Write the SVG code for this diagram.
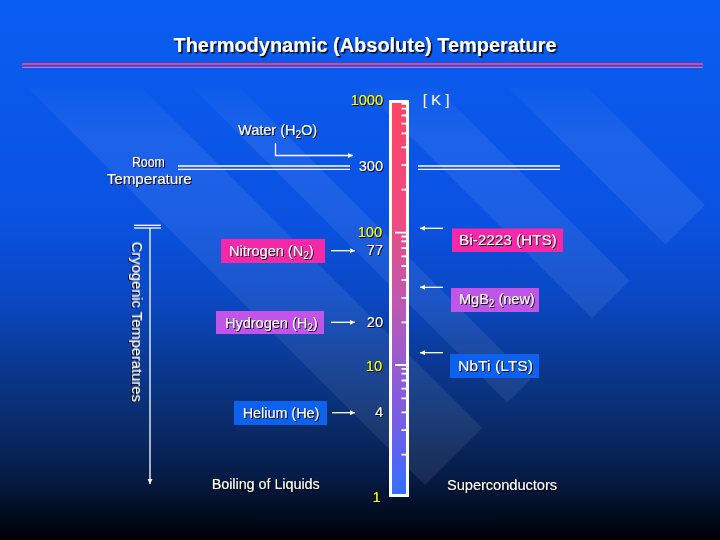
<svg xmlns="http://www.w3.org/2000/svg" width="720" height="540" viewBox="0 0 720 540">
<defs>
<linearGradient id="bg" x1="0" y1="0" x2="0" y2="1">
<stop offset="0" stop-color="#0a5ef2"/>
<stop offset="0.4" stop-color="#0a52e2"/>
<stop offset="0.55" stop-color="#0a48c4"/>
<stop offset="0.68" stop-color="#0a3890"/>
<stop offset="0.78" stop-color="#0a2c6c"/>
<stop offset="0.88" stop-color="#061c48"/>
<stop offset="0.95" stop-color="#020c20"/>
<stop offset="1" stop-color="#000004"/>
</linearGradient>
<linearGradient id="therm" gradientUnits="userSpaceOnUse" x1="0" y1="100" x2="0" y2="497">
<stop offset="0" stop-color="#ff4466"/>
<stop offset="0.3" stop-color="#f04c82"/>
<stop offset="0.5" stop-color="#c058b0"/>
<stop offset="0.65" stop-color="#9a5ccc"/>
<stop offset="0.8" stop-color="#7a5ce4"/>
<stop offset="1" stop-color="#3070ff"/>
</linearGradient>
<linearGradient id="bandfade" gradientUnits="userSpaceOnUse" x1="0" y1="88" x2="0" y2="140">
<stop offset="0" stop-color="#ffffff" stop-opacity="0.02"/>
<stop offset="1" stop-color="#ffffff" stop-opacity="0.075"/>
</linearGradient>
<marker id="ah" markerUnits="userSpaceOnUse" markerWidth="6" markerHeight="6" refX="5" refY="2.5" orient="auto">
<path d="M0,0 L5,2.5 L0,5 z" fill="#ffffff"/>
</marker>
<filter id="sh" x="-10%" y="-30%" width="120%" height="160%">
<feDropShadow dx="1" dy="1" stdDeviation="0" flood-color="#000000" flood-opacity="1"/>
</filter>
<filter id="tsh" x="-10%" y="-30%" width="120%" height="160%">
<feDropShadow dx="1.5" dy="1.5" stdDeviation="0" flood-color="#000000" flood-opacity="1"/>
</filter>
<style>
.lbl{font-family:"Liberation Sans","DejaVu Sans",sans-serif;font-size:14.5px;fill:#ffffff;}
.num{font-family:"Liberation Sans","DejaVu Sans",sans-serif;font-size:14.5px;text-anchor:end;}
.w{fill:#ffffff;}
.y{fill:#ffff00;}
.sub{font-size:10px;}
.line{stroke:#ffffff;stroke-width:1.3;fill:none;}
.arr{stroke:#ffffff;stroke-width:1.3;fill:none;marker-end:url(#ah);}
.tick{stroke:#ffffff;stroke-width:1.8;}
.band{fill:url(#bandfade);}
.mag{fill:#f428a8;}
.vio{fill:#c055e8;}
.blu{fill:#0c62ee;}
</style>
</defs>
<rect x="0" y="0" width="720" height="540" fill="url(#bg)"/>
<g id="bands">
<polygon class="band" points="28,88 142,88 482,428 425,485"/>
<polygon class="band" points="193,88 240,88 530.5,379.5 507.5,402.5"/>
<polygon class="band" points="362,88 437,88 629.5,280.5 592,318"/>
<polygon class="band" points="509,88 588,88 705,205 665.5,244.5"/>
</g>
<g id="title">
<text x="365" y="52" text-anchor="middle" textLength="383" lengthAdjust="spacingAndGlyphs" filter="url(#tsh)" style="font-family:'Liberation Sans','DejaVu Sans',sans-serif;font-size:20px;font-weight:bold;fill:#ffffff">Thermodynamic (Absolute) Temperature</text>
<line x1="22" y1="64" x2="703" y2="64" stroke="#ff3a7a" stroke-width="2"/>
<line x1="22" y1="67.3" x2="703" y2="67.3" stroke="#d868c8" stroke-width="1.2"/>
</g>
<g id="thermometer">
<rect x="390.5" y="101.5" width="17" height="394" fill="url(#therm)" stroke="#ffffff" stroke-width="3"/>
<path class="tick" d="M401.5,103.8H407M401.5,108.6H407M401.5,115.5H407M401.5,123.6H407M401.5,133.3H407M401.5,147.3H407M401.5,165.2H407M401.5,189.6H407M395,232.7H407M401.5,236.5H407M401.5,241.3H407M401.5,248.2H407M401.5,256.3H407M401.5,266H407M401.5,280H407M401.5,297.9H407M401.5,322.3H407M395,365H407M401.5,368.8H407M401.5,373.6H407M401.5,380.5H407M401.5,388.6H407M401.5,398.3H407M401.5,412.3H407M401.5,430.2H407M401.5,454.6H407"/>
<text class="num y" x="383" y="105" filter="url(#sh)">1000</text>
<text class="num w" x="383" y="171" filter="url(#sh)">300</text>
<text class="num y" x="382" y="236.7" filter="url(#sh)">100</text>
<text class="num w" x="383" y="255" filter="url(#sh)">77</text>
<text class="num w" x="383" y="327.3" filter="url(#sh)">20</text>
<text class="num y" x="382" y="370.7" filter="url(#sh)">10</text>
<text class="num w" x="383" y="416.7" filter="url(#sh)">4</text>
<text class="num y" x="380.5" y="501.7" filter="url(#sh)">1</text>
<text class="lbl" x="422.7" y="105" textLength="26.7" lengthAdjust="spacingAndGlyphs">[ K ]</text>
</g>
<g id="water">
<text class="lbl" x="238" y="135" filter="url(#sh)">Water (H<tspan class="sub" dy="3">2</tspan><tspan dy="-3">O)</tspan></text>
</g>
<g id="room-temperature">
<text class="lbl" x="148.4" y="167.3" text-anchor="middle" textLength="33" lengthAdjust="spacingAndGlyphs" filter="url(#sh)">Room</text>
<text class="lbl" x="149.2" y="183.5" text-anchor="middle" textLength="85" lengthAdjust="spacingAndGlyphs" filter="url(#sh)">Temperature</text>
</g>
<g id="cryogenic">
<text class="lbl" transform="translate(132,321.7) rotate(90)" x="0" y="0" text-anchor="middle" textLength="160" lengthAdjust="spacingAndGlyphs" filter="url(#sh)">Cryogenic Temperatures</text>
</g>
<g id="nitrogen">
<rect class="mag" x="221" y="239" width="104" height="24"/>
<text class="lbl" x="229" y="256" filter="url(#sh)">Nitrogen (N<tspan class="sub" dy="3">2</tspan><tspan dy="-3">)</tspan></text>
</g>
<g id="hydrogen">
<rect class="vio" x="216" y="311" width="108" height="23"/>
<text class="lbl" x="225" y="328" filter="url(#sh)">Hydrogen (H<tspan class="sub" dy="3">2</tspan><tspan dy="-3">)</tspan></text>
</g>
<g id="helium">
<rect class="blu" x="234" y="401" width="93" height="24"/>
<text class="lbl" x="242.7" y="418.3" textLength="76.6" lengthAdjust="spacingAndGlyphs" filter="url(#sh)">Helium (He)</text>
</g>
<g id="bi2223">
<rect class="mag" x="452" y="228.5" width="111" height="23.5"/>
<text class="lbl" x="459" y="245" textLength="97.7" lengthAdjust="spacingAndGlyphs" filter="url(#sh)">Bi-2223 (HTS)</text>
</g>
<g id="mgb2">
<rect class="vio" x="451" y="288" width="88" height="24"/>
<text class="lbl" x="459" y="304.3" filter="url(#sh)">MgB<tspan class="sub" dy="3">2</tspan><tspan dy="-3"> (new)</tspan></text>
</g>
<g id="nbti">
<rect class="blu" x="450" y="354" width="89" height="24"/>
<text class="lbl" x="458" y="371" textLength="75" lengthAdjust="spacingAndGlyphs" filter="url(#sh)">NbTi (LTS)</text>
</g>
<g id="boiling">
<text class="lbl" x="211.7" y="489" textLength="108" lengthAdjust="spacingAndGlyphs" filter="url(#sh)">Boiling of Liquids</text>
</g>
<g id="superconductors">
<text class="lbl" x="447" y="490" textLength="110" lengthAdjust="spacingAndGlyphs" filter="url(#sh)">Superconductors</text>
</g>
<g id="connectors">
<line class="line" x1="178" y1="166" x2="350" y2="166"/>
<line class="line" x1="178" y1="169.3" x2="350" y2="169.3"/>
<line class="line" x1="418" y1="166" x2="560" y2="166"/>
<line class="line" x1="418" y1="169.3" x2="560" y2="169.3"/>
<line class="line" x1="134" y1="225.3" x2="161" y2="225.3"/>
<line class="line" x1="134" y1="228" x2="161" y2="228"/>
<line class="arr" x1="150" y1="228" x2="150" y2="484"/>
<polyline class="arr" points="275.5,143 275.5,155.5 353,155.5"/>
<line class="arr" x1="331" y1="250.7" x2="355" y2="250.7"/>
<line class="arr" x1="331" y1="322.3" x2="355" y2="322.3"/>
<line class="arr" x1="332" y1="412.7" x2="355" y2="412.7"/>
<line class="arr" x1="443" y1="228.3" x2="420" y2="228.3"/>
<line class="arr" x1="443" y1="287.3" x2="420" y2="287.3"/>
<line class="arr" x1="443" y1="352.7" x2="420" y2="352.7"/>
</g>
</svg>
